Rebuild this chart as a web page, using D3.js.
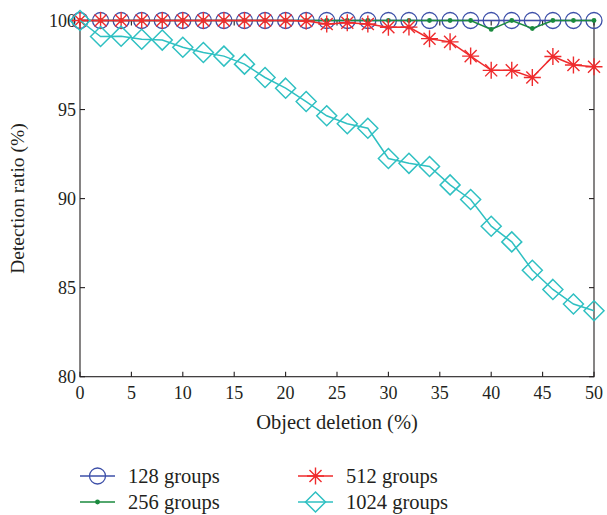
<!DOCTYPE html>
<html><head><meta charset="utf-8">
<script src="https://cdn.jsdelivr.net/npm/d3@7"></script>
<style>body{margin:0;background:#fff}svg{display:block}text{font-family:"Liberation Serif","Times New Roman",serif;fill:#231f20}</style>
</head><body><svg id="c" width="607" height="515"></svg>
<script>
const xValues = [0,2,4,6,8,10,12,14,16,18,20,22,24,26,28,30,32,34,36,38,40,42,44,46,48,50];
const g128 = [100,100,100,100,100,100,100,100,100,100,100,100,100,100,100,100,100,100,100,100,100,100,100,100,100,100];
const g256 = [100,100,100,100,100,100,100,100,100,100,100,100,100,100,100,100,100,100,100,100,99.5,100,99.55,100,100,100];
const g512 = [100,100,100,100,100,100,100,100,100,100,100,99.97,99.8,99.87,99.8,99.62,99.63,98.98,98.8,98.0,97.2,97.2,96.8,97.98,97.5,97.4];
const g1024 = [100,99.1,99.12,98.95,98.9,98.5,98.2,98.0,97.55,96.8,96.2,95.45,94.65,94.2,93.95,92.25,91.98,91.8,90.77,89.95,88.45,87.57,85.98,84.9,84.08,83.7];
const seriesNames = ["128 groups","256 groups","512 groups","1024 groups"];
const xTicks = [0,5,10,15,20,25,30,35,40,45,50];
const yTicks = [80,85,90,95,100];
const xLabel = "Object deletion (%)";
const yLabel = "Detection ratio (%)";

const colors = ["#3d4fa8","#1a8a3e","#ef2b2d","#2fc0c2"];
const markers = ["circle","dot","star","diamond"];
const data = [g128,g256,g512,g1024];

const svg = d3.select("#c");
const L=80, R=594, T=20.5, B=376.7;
const x = d3.scaleLinear().domain([0,50]).range([L,R]);
const y = d3.scaleLinear().domain([80,100]).range([B,T]);

function drawMarker(g, type, cx, cy, col){
  if(type==="circle") g.append("circle").attr("cx",cx).attr("cy",cy).attr("r",8).attr("fill","none").attr("stroke",col).attr("stroke-width",1.3);
  else if(type==="dot") g.append("circle").attr("cx",cx).attr("cy",cy).attr("r",2.4).attr("fill",col);
  else if(type==="star"){
    const r=8.5, d=r*0.7071;
    const p=`M${cx-r},${cy}L${cx+r},${cy}M${cx},${cy-r}L${cx},${cy+r}M${cx-d},${cy-d}L${cx+d},${cy+d}M${cx-d},${cy+d}L${cx+d},${cy-d}`;
    g.append("path").attr("d",p).attr("stroke",col).attr("stroke-width",1.4).attr("fill","none");
  } else if(type==="diamond"){
    const r=10;
    g.append("path").attr("d",`M${cx},${cy-r}L${cx+r},${cy}L${cx},${cy+r}L${cx-r},${cy}Z`).attr("fill","none").attr("stroke",col).attr("stroke-width",1.5);
  }
}

// axes frame
const ax = svg.append("g").attr("stroke","#231f20").attr("stroke-width",1.1);
const tl=5;
ax.append("rect").attr("x",L).attr("y",T).attr("width",R-L).attr("height",B-T).attr("fill","none");
xTicks.forEach(t=>{
  ax.append("line").attr("x1",x(t)).attr("x2",x(t)).attr("y1",B).attr("y2",B-tl);
  ax.append("line").attr("x1",x(t)).attr("x2",x(t)).attr("y1",T).attr("y2",T+tl);
});
yTicks.forEach(t=>{
  ax.append("line").attr("y1",y(t)).attr("y2",y(t)).attr("x1",L).attr("x2",L+tl);
  ax.append("line").attr("y1",y(t)).attr("y2",y(t)).attr("x1",R).attr("x2",R-tl);
});
xTicks.forEach(t=>{
  svg.append("text").attr("x",x(t)).attr("y",B+22).attr("text-anchor","middle").attr("font-size",18).text(t);
});
yTicks.forEach(t=>{
  svg.append("text").attr("x",L-4).attr("y",y(t)+6).attr("text-anchor","end").attr("font-size",18).text(t);
});
svg.append("text").attr("x",(L+R)/2).attr("y",B+52).attr("text-anchor","middle").attr("font-size",20.5).text(xLabel);
svg.append("text").attr("transform",`translate(24,${(T+B)/2}) rotate(-90)`).attr("text-anchor","middle").attr("font-size",19.5).text(yLabel);

// series
const line = d3.line().x((d,i)=>x(xValues[i])).y(d=>y(d));
data.forEach((vals,k)=>{
  const g = svg.append("g");
  g.append("path").attr("d",line(vals)).attr("fill","none").attr("stroke",colors[k]).attr("stroke-width",1.5);
  vals.forEach((v,i)=>drawMarker(g,markers[k],x(xValues[i]),y(v),colors[k]));
});

// legend
const legPos = [[80,476],[80,502],[298,476],[298,502]];
seriesNames.forEach((n,k)=>{
  const [lx,ly]=legPos[k];
  const g=svg.append("g");
  g.append("line").attr("x1",lx).attr("x2",lx+35).attr("y1",ly).attr("y2",ly).attr("stroke",colors[k]).attr("stroke-width",1.5);
  drawMarker(g,markers[k],lx+17.5,ly,colors[k]);
  svg.append("text").attr("x",lx+48).attr("y",ly+6.5).attr("font-size",20.5).text(n);
});
</script></body></html>
